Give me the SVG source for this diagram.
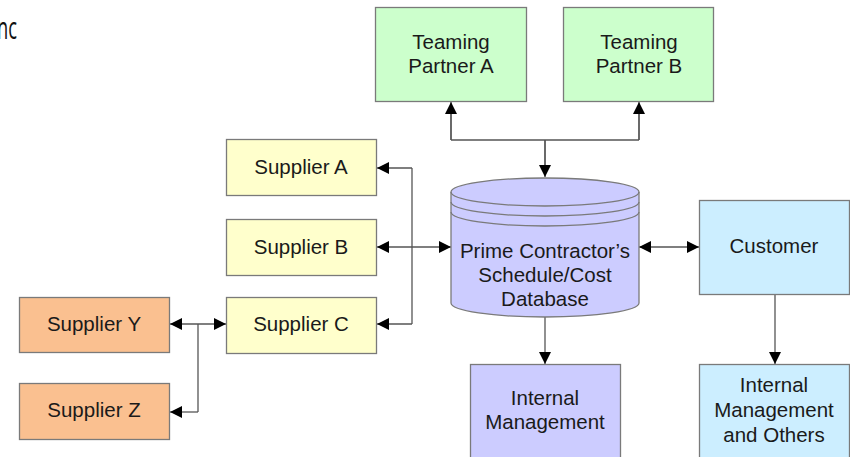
<svg xmlns="http://www.w3.org/2000/svg" width="850" height="457" viewBox="0 0 850 457">
<defs>
<marker id="ah" viewBox="0 0 12 12" refX="12" refY="6" markerWidth="12" markerHeight="12" markerUnits="userSpaceOnUse" orient="auto-start-reverse">
<path d="M0,0 L12,6 L0,12 Z" fill="#000"/>
</marker>
<style>
.box{stroke:#7a7a7a;stroke-width:1.3}
.t{font-family:"Liberation Sans",Arial,sans-serif;font-size:20.5px;fill:#1a1a1a;text-anchor:middle}
.c{fill:none;stroke:#555;stroke-width:1.3}
.g{fill:#ccffcc}.y{fill:#ffffcc}.o{fill:#fac090}.p{fill:#ccccff}.b{fill:#cceeff}
</style>
</defs>
<rect width="850" height="457" fill="#fff"/>
<text x="-3" y="39" font-family="'Open Sans','Noto Sans',sans-serif" font-size="31" fill="#111" textLength="20" lengthAdjust="spacingAndGlyphs">nc</text>

<g id="connectors">
<path class="c" d="M545,175 V140 M451,140 H639 M451,140 V111 M639,140 V111" />
<path class="c" d="M545,140 V177" marker-end="url(#ah)"/>
<path class="c" d="M451,140 V102" marker-end="url(#ah)"/>
<path class="c" d="M639,140 V102" marker-end="url(#ah)"/>
<path class="c" d="M412,168 V324"/>
<path class="c" d="M412,168 H377" marker-end="url(#ah)"/>
<path class="c" d="M412,324 H377" marker-end="url(#ah)"/>
<path class="c" d="M377,247 H451" marker-start="url(#ah)" marker-end="url(#ah)"/>
<path class="c" d="M639,247 H699" marker-start="url(#ah)" marker-end="url(#ah)"/>
<path class="c" d="M198,324 V412"/>
<path class="c" d="M170,324 H226" marker-start="url(#ah)" marker-end="url(#ah)"/>
<path class="c" d="M198,412 H170" marker-end="url(#ah)"/>
<path class="c" d="M545,317 V364" marker-end="url(#ah)"/>
<path class="c" d="M775,294 V364" marker-end="url(#ah)"/>
</g>

<g id="partnerA"><rect class="box g" x="375.5" y="7.5" width="151" height="94"/><text class="t" x="451" y="49">Teaming</text><text class="t" x="451" y="73">Partner A</text></g>
<g id="partnerB"><rect class="box g" x="563.5" y="7.5" width="150" height="94"/><text class="t" x="639" y="49">Teaming</text><text class="t" x="639" y="73">Partner B</text></g>

<g id="supplierA"><rect class="box y" x="226.5" y="139.5" width="150" height="56"/><text class="t" x="301" y="174">Supplier A</text></g>
<g id="supplierB"><rect class="box y" x="226.5" y="219.5" width="150" height="56"/><text class="t" x="301" y="254">Supplier B</text></g>
<g id="supplierC"><rect class="box y" x="226.5" y="297.5" width="150" height="56"/><text class="t" x="301" y="331">Supplier C</text></g>
<g id="supplierY"><rect class="box o" x="19.5" y="297.5" width="150" height="55"/><text class="t" x="94" y="331">Supplier Y</text></g>
<g id="supplierZ"><rect class="box o" x="19.5" y="383.5" width="150" height="56"/><text class="t" x="94" y="417">Supplier Z</text></g>

<g id="database">
<path class="box p" d="M451,192 V303 A94,14 0 0 0 639,303 V192 A94,14 0 0 0 451,192 Z"/>
<path class="box" fill="none" d="M451,192 A94,14 0 0 0 639,192 M451,202 A94,14 0 0 0 639,202 M451,212 A94,14 0 0 0 639,212"/>
<text class="t" x="545" y="258">Prime Contractor’s</text>
<text class="t" x="545" y="282">Schedule/Cost</text>
<text class="t" x="545" y="306">Database</text>
</g>

<g id="customer"><rect class="box b" x="699.5" y="200.5" width="150" height="94"/><text class="t" x="774" y="253">Customer</text></g>
<g id="internalMgmt"><rect class="box p" x="470.5" y="364.5" width="150" height="100"/><text class="t" x="545" y="405">Internal</text><text class="t" x="545" y="429">Management</text></g>
<g id="internalOthers"><rect class="box b" x="699.5" y="364.5" width="150" height="100"/><text class="t" x="774" y="392">Internal</text><text class="t" x="774" y="417">Management</text><text class="t" x="774" y="442">and Others</text></g>
</svg>
